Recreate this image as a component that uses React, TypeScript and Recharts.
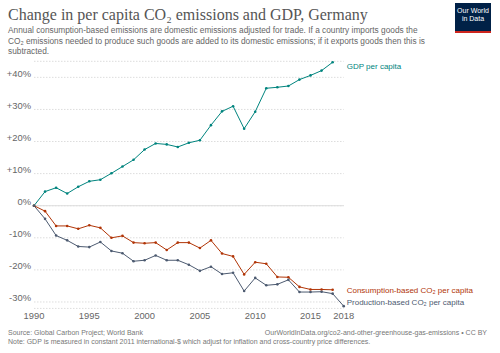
import React from 'react';
import { CartesianGrid, Line, LineChart, ReferenceLine, XAxis, YAxis } from 'recharts';

// Germany, % change since 1990
const YEARS = [
  1990, 1991, 1992, 1993, 1994, 1995, 1996, 1997, 1998, 1999, 2000, 2001, 2002, 2003, 2004,
  2005, 2006, 2007, 2008, 2009, 2010, 2011, 2012, 2013, 2014, 2015, 2016, 2017, 2018,
];
const GDP = [
  0, 4.4, 5.6, 3.8, 5.9, 7.6, 8.1, 10.1, 12.2, 14.3, 17.5, 19.4, 19.1, 18.3, 19.6, 20.4, 25.1,
  29.4, 31.0, 24.0, 29.3, 36.6, 36.9, 37.3, 39.3, 40.6, 42.1, 44.7,
];
const CONSUMPTION = [
  0, -1.7, -6.3, -6.3, -7.2, -6.1, -6.9, -10.0, -9.4, -11.5, -11.7, -11.5, -13.8, -11.5, -11.5,
  -13.2, -10.8, -14.9, -15.8, -21.4, -17.6, -18.1, -22.2, -22.3, -25.3, -26.1, -26.1, -26.2,
];
const PRODUCTION = [
  0, -4.1, -9.3, -10.8, -12.7, -12.9, -11.3, -14.1, -14.8, -17.3, -17.0, -15.5, -17.0, -17.0,
  -18.4, -20.3, -19.0, -21.3, -20.9, -26.6, -22.5, -24.8, -24.5, -23.1, -26.9, -26.9, -26.8,
  -27.4, -31.3,
];
const X_TICKS = [1990, 1995, 2000, 2005, 2010, 2015, 2018];
const Y_TICKS = [-30, -20, -10, 0, 10, 20, 30, 40];

const data = YEARS.map((year, i) => ({
  year,
  gdp: GDP[i],
  consumption: CONSUMPTION[i],
  production: PRODUCTION[i],
}));

const W = 500;
const H = 353;
const X_AXIS_H = 30;
const MARGIN = { top: 61.3, right: 156.3, bottom: 44.6 - X_AXIS_H, left: 0 };
const PLOT_RIGHT = W - MARGIN.right;
const FONT = '"Liberation Sans", Arial, sans-serif';

const fmtPct = (v: number) => (v > 0 ? `+${v}%` : `${v}%`);

const endLabel = (text: React.ReactNode, color: string, lastIndex: number, dy: number) =>
  (props: any) => {
    if (props.index !== lastIndex || props.y == null) return null;
    return (
      <text x={PLOT_RIGHT + 3} y={props.y + dy} fill={color} fontSize={8} fontFamily={FONT}>
        {text}
      </text>
    );
  };

const YTick = ({ x, y, payload }: any) => (
  <text x={x} y={y - 0.5} textAnchor="end" fill="#666" fontSize={9.4} fontFamily={FONT}>
    {fmtPct(payload.value)}
  </text>
);

const XTick = ({ x, y, payload }: any) => (
  <text x={x} y={y + 8} textAnchor="middle" fill="#666" fontSize={9.4} fontFamily={FONT}>
    {payload.value}
  </text>
);

export default function App() {
  return (
    <div style={{ position: 'absolute', left: 0, top: 0, width: W, height: H, background: '#fff', fontFamily: FONT }}>
      <LineChart width={W} height={H} data={data} margin={MARGIN}>
        <CartesianGrid horizontal vertical={false} stroke="#ddd" strokeDasharray="1.5 1.5" />
        <XAxis
          dataKey="year"
          type="number"
          domain={[1990, 2018]}
          ticks={X_TICKS}
          interval={0}
          height={X_AXIS_H}
          axisLine={false}
          tickLine={false}
          tickSize={0}
          tickMargin={3}
          tick={<XTick />}
        />
        <YAxis
          type="number"
          domain={[-32, 45]}
          ticks={Y_TICKS}
          width={34}
          axisLine={false}
          tickLine={false}
          tickSize={0}
          tickMargin={3}
          tick={<YTick />}
        />
        <ReferenceLine y={0} stroke="#ddd" strokeWidth={1} />
        <Line
          dataKey="gdp"
          stroke="#00847e"
          strokeWidth={1}
          dot={{ r: 1.3, fill: '#00847e', stroke: '#00847e', strokeWidth: 0 }}
          isAnimationActive={false}
          label={endLabel('GDP per capita', '#00847e', GDP.length - 1, 6.8)}
        />
        <Line
          dataKey="consumption"
          stroke="#b13507"
          strokeWidth={1}
          dot={{ r: 1.3, fill: '#b13507', stroke: '#b13507', strokeWidth: 0 }}
          isAnimationActive={false}
          label={endLabel('Consumption-based CO₂ per capita', '#b13507', CONSUMPTION.length - 1, 3.2)}
        />
        <Line
          dataKey="production"
          stroke="#4c5a70"
          strokeWidth={1}
          dot={{ r: 1.3, fill: '#4c5a70', stroke: '#4c5a70', strokeWidth: 0 }}
          isAnimationActive={false}
          label={endLabel('Production-based CO₂ per capita', '#4c5a70', PRODUCTION.length - 1, -1.2)}
        />
      </LineChart>

      {/* header */}
      <div style={{ position: 'absolute', left: 8, top: 6, fontFamily: '"Liberation Serif", serif', fontSize: 16, color: '#555', whiteSpace: 'nowrap', lineHeight: '18px' }}>
        Change in per capita CO₂ emissions and GDP, Germany
      </div>
      <div style={{ position: 'absolute', left: 8, top: 25, fontSize: 8.3, color: '#666', whiteSpace: 'nowrap', lineHeight: '10.5px' }}>
        <div>Annual consumption-based emissions are domestic emissions adjusted for trade. If a country imports goods the</div>
        <div>CO₂ emissions needed to produce such goods are added to its domestic emissions; if it exports goods then this is</div>
        <div>subtracted.</div>
      </div>

      {/* logo */}
      <div style={{ position: 'absolute', left: 455, top: 3, width: 36, height: 24, background: '#002147', borderBottom: '2px solid #ce261e', color: '#fff', fontSize: 7, lineHeight: '8px', textAlign: 'center', paddingTop: 4, boxSizing: 'content-box' }}>
        Our World
        <br />
        in Data
      </div>

      {/* footer */}
      <div style={{ position: 'absolute', left: 8, top: 328, fontSize: 7, color: '#777', whiteSpace: 'nowrap', lineHeight: '9px' }}>
        Source: Global Carbon Project; World Bank
      </div>
      <div style={{ position: 'absolute', right: 13, top: 328, fontSize: 7, color: '#777', whiteSpace: 'nowrap', lineHeight: '9px' }}>
        OurWorldInData.org/co2-and-other-greenhouse-gas-emissions • CC BY
      </div>
      <div style={{ position: 'absolute', left: 8, top: 337, fontSize: 7, color: '#777', whiteSpace: 'nowrap', lineHeight: '9px' }}>
        Note: GDP is measured in constant 2011 international-$ which adjust for inflation and cross-country price differences.
      </div>
    </div>
  );
}
